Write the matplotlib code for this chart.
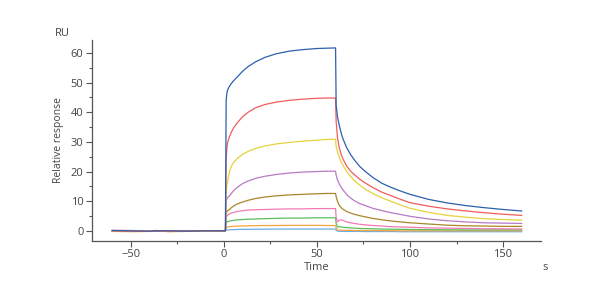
import matplotlib
matplotlib.use("Agg")
import matplotlib.pyplot as plt
from matplotlib.ticker import MultipleLocator

plt.rcParams['font.family'] = ['Open Sans', 'DejaVu Sans']

# time grids (s)
T_BASE = [-60, -50, -40, -37, -30, -20, -10, 0, 0.8]
T_ASSOC = [1.2, 1.6, 2, 3, 4, 5, 7, 10, 13, 17, 22, 28, 35, 42, 50, 55, 60]
T_DISS = [60.3, 61, 62, 63, 64, 66, 68, 70, 73, 76, 80, 85, 90, 95, 100, 110, 120, 130, 140, 150, 160]
TIME = T_BASE + T_ASSOC + T_DISS

# responses (RU), highest concentration first
blue_base = [0.1, 0.0, -0.1, 0.0, 0.0, -0.1, 0.0, 0.0, 0.0]
blue_assoc = [44, 46.5, 47.5, 48.8, 49.7, 50.5, 51.8, 53.8, 55.4, 57.0, 58.5, 59.7, 60.6, 61.1, 61.5, 61.6, 61.7]
blue_diss = [42.5, 38.5, 35.5, 33.0, 31.0, 28.0, 25.8, 24.0, 21.7, 20.0, 18.0, 16.0, 14.6, 13.4, 12.3, 10.6, 9.4, 8.5, 7.8, 7.2, 6.7]

red_base = [0.0, -0.1, -0.2, 0.0, -0.1, -0.1, 0.0, 0.0, 0.0]
red_assoc = [24, 28, 29.8, 31.8, 33.3, 34.5, 36.3, 38.5, 40.0, 41.5, 42.6, 43.4, 44.0, 44.4, 44.7, 44.8, 44.8]
red_diss = [37.0, 31.5, 28.0, 25.8, 24.2, 21.8, 20.2, 19.0, 17.4, 16.1, 14.6, 13.0, 11.8, 10.6, 9.5, 8.3, 7.4, 6.7, 6.1, 5.6, 5.2]

yellow_base = [-0.1, -0.1, 0.0, 0.1, -0.1, 0.0, -0.1, 0.0, 0.0]
yellow_assoc = [13, 15.5, 16.8, 20.0, 21.8, 22.9, 24.3, 25.8, 26.8, 27.8, 28.6, 29.3, 29.8, 30.2, 30.6, 30.8, 30.9]
yellow_diss = [28.5, 26.8, 24.8, 23.2, 22.0, 20.0, 18.4, 17.0, 15.4, 14.0, 12.6, 11.1, 9.9, 8.7, 7.6, 6.2, 5.2, 4.6, 4.1, 3.8, 3.6]

purple_base = [0.2, 0.1, 0.0, -0.1, 0.0, 0.1, 0.0, 0.0, 0.0]
purple_assoc = [10.0, 10.8, 11.2, 11.8, 12.6, 13.4, 14.6, 15.9, 16.8, 17.7, 18.4, 19.0, 19.5, 19.8, 20.0, 20.1, 20.1]
purple_diss = [18.8, 17.2, 15.8, 14.7, 13.8, 12.2, 11.1, 10.2, 9.2, 8.5, 7.6, 6.8, 6.1, 5.5, 4.9, 4.0, 3.4, 3.0, 2.7, 2.6, 2.5]

brown_base = [-0.1, -0.2, -0.1, 0.0, -0.2, -0.1, 0.0, -0.1, 0.0]
brown_assoc = [6.0, 6.5, 6.8, 7.2, 7.8, 8.3, 9.0, 9.7, 10.3, 10.9, 11.4, 11.8, 12.1, 12.3, 12.5, 12.6, 12.6]
brown_diss = [11.6, 10.0, 8.6, 7.8, 7.3, 6.5, 6.0, 5.6, 5.1, 4.7, 4.2, 3.7, 3.3, 3.0, 2.7, 2.3, 1.9, 1.7, 1.6, 1.5, 1.5]

pink_base = [0.0, 0.0, -0.1, 0.1, 0.0, -0.1, 0.0, 0.0, 0.0]
pink_assoc = [4.5, 5.0, 5.3, 5.7, 6.0, 6.2, 6.5, 6.8, 7.0, 7.1, 7.2, 7.3, 7.4, 7.4, 7.5, 7.5, 7.5]
pink_diss = [4.5, 3.0, 3.6, 3.7, 3.5, 3.0, 2.7, 2.5, 2.2, 2.0, 1.8, 1.6, 1.4, 1.3, 1.2, 1.0, 0.9, 0.8, 0.7, 0.7, 0.6]

green_base = [-0.1, 0.0, 0.0, 0.0, -0.1, 0.0, 0.0, 0.0, 0.0]
green_assoc = [2.6, 2.9, 3.1, 3.3, 3.4, 3.5, 3.7, 3.8, 3.9, 4.0, 4.1, 4.2, 4.3, 4.3, 4.4, 4.4, 4.4]
green_diss = [2.5, 1.3, 1.4, 1.3, 1.2, 1.1, 1.0, 0.9, 0.8, 0.75, 0.7, 0.6, 0.55, 0.5, 0.45, 0.4, 0.35, 0.3, 0.3, 0.3, 0.3]

orange_base = [-0.2, -0.3, -0.2, 0.1, -0.3, -0.2, -0.1, -0.1, 0.0]
orange_assoc = [1.1, 1.2, 1.3, 1.4, 1.45, 1.5, 1.6, 1.65, 1.7, 1.75, 1.8, 1.8, 1.85, 1.85, 1.85, 1.8, 1.8]
orange_diss = [1.0, 0.3, 0.25, 0.2, 0.2, 0.15, 0.15, 0.1, 0.1, 0.1, 0.1, 0.05, 0.05, 0.0, 0.0, 0.0, 0.0, 0.0, 0.0, 0.0, 0.0]

lblue_base = [0.0, -0.1, -0.1, 0.0, -0.1, 0.0, 0.0, 0.0, 0.0]
lblue_assoc = [0.2, 0.25, 0.3, 0.35, 0.4, 0.4, 0.45, 0.5, 0.5, 0.55, 0.55, 0.6, 0.6, 0.6, 0.6, 0.6, 0.6]
lblue_diss = [0.2, -0.1, -0.15, -0.2, -0.2, -0.2, -0.2, -0.2, -0.2, -0.25, -0.25, -0.25, -0.25, -0.3, -0.3, -0.3, -0.3, -0.3, -0.3, -0.3, -0.3]

SERIES = [
    (lblue_base + lblue_assoc + lblue_diss, '#6aaee6'),
    (orange_base + orange_assoc + orange_diss, '#f5a442'),
    (green_base + green_assoc + green_diss, '#5cbd5c'),
    (pink_base + pink_assoc + pink_diss, '#f27ab4'),
    (brown_base + brown_assoc + brown_diss, '#a8862a'),
    (purple_base + purple_assoc + purple_diss, '#b77ac4'),
    (yellow_base + yellow_assoc + yellow_diss, '#e6d23c'),
    (red_base + red_assoc + red_diss, '#f25c5c'),
    (blue_base + blue_assoc + blue_diss, '#2c5fad'),
]

fig = plt.figure(figsize=(6, 3), dpi=100)
ax = fig.add_axes([0.153, 0.197, 0.749, 0.67])

for vals, col in SERIES:
    ax.plot(TIME, vals, color=col, lw=0.9)

ax.set_xlim(-71, 170.5)
ax.set_ylim(-3.4, 64.4)

for s in ['top', 'right']:
    ax.spines[s].set_visible(False)
for s in ['left', 'bottom']:
    ax.spines[s].set_color('#555555')
    ax.spines[s].set_linewidth(0.9)

ax.xaxis.set_major_locator(MultipleLocator(50))
ax.xaxis.set_minor_locator(MultipleLocator(25))
ax.yaxis.set_major_locator(MultipleLocator(10))
ax.yaxis.set_minor_locator(MultipleLocator(5))
ax.tick_params(which='major', length=4, width=0.8, color='#555555',
               labelsize=8, labelcolor='#444444', pad=2)
ax.tick_params(which='minor', length=2.5, width=0.8, color='#555555')

ax.set_xlabel('Time', fontsize=8, color='#444444', labelpad=1)
ax.set_ylabel('Relative response', fontsize=7.5, color='#444444', labelpad=5)
fig.text(0.092, 0.89, 'RU', fontsize=8, color='#444444', ha='left', va='center')
fig.text(0.908, 0.107, 's', fontsize=8, color='#444444', ha='center', va='center')

fig.savefig('out.png', dpi=100)
